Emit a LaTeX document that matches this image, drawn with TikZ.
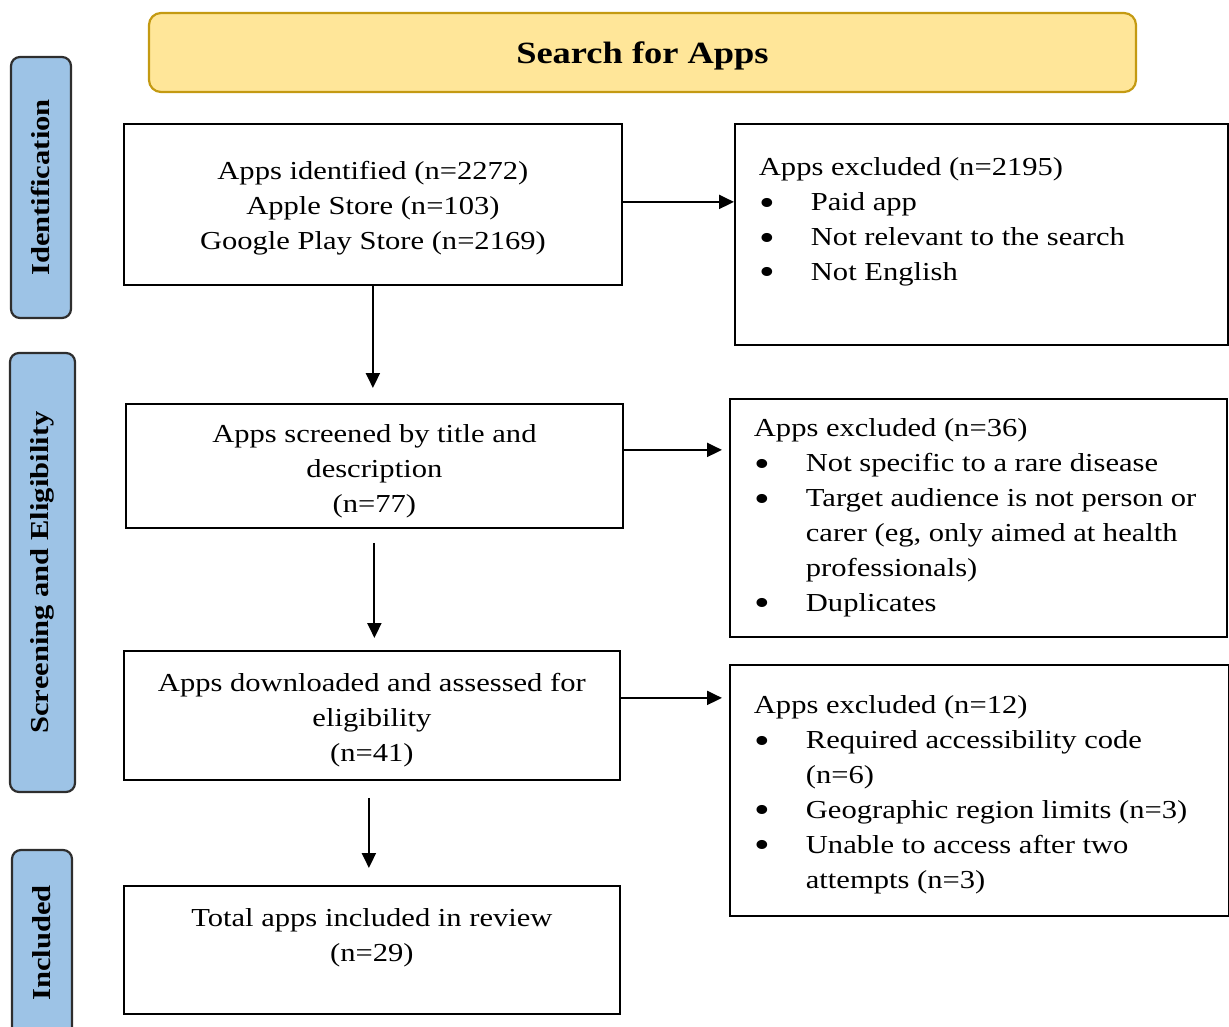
\documentclass[tikz,border=0pt]{standalone}
\usepackage{fontspec}
\setmainfont{Liberation Serif}[FakeStretch=1.18]
\usetikzlibrary{arrows.meta}

\definecolor{bannerfill}{HTML}{FFE699}
\definecolor{bannerdraw}{HTML}{C49A12}
\definecolor{stagefill}{HTML}{9DC3E6}
\definecolor{stagedraw}{HTML}{2E2E2E}

% box content: width, height, space above the first line, lines
\newcommand\boxlines[4]{\vbox to #2{\hrule height0pt depth0pt width #1\kern#3\relax #4\vfil}}
\newcommand\cenline[2]{\hbox to #1{\hfil\strut #2\hfil}}
\newcommand\lline[1]{\hbox{\hspace*{24bp}\strut #1}}
\newcommand\bul{\makebox[52bp][l]{\hspace{1bp}\raisebox{-4.5bp}{\fontsize{38}{35}\selectfont\textbullet}}}
\newcommand\cont{\hspace*{52bp}}

\begin{document}
\begin{tikzpicture}[x=1bp,y=-1bp,
  txt/.style={font=\fontsize{26}{35}\selectfont},
  box/.style={txt, draw=black, line width=1.8bp, inner sep=0pt, anchor=north west, fill=white},
  stage/.style={font=\fontsize{26}{30}\selectfont\bfseries, draw=stagedraw, fill=stagefill,
    line width=2.2bp, rounded corners=9bp, inner sep=0pt, rotate=90},
  banner/.style={font=\fontsize{31}{34}\selectfont\bfseries, draw=bannerdraw, fill=bannerfill,
    line width=2.2bp, rounded corners=12bp, inner sep=0pt},
  arr/.style={line width=2bp, -{Triangle[length=15bp,width=14bp]}}]

\useasboundingbox (0,0) rectangle (1229,1027);

% header
\node[banner, minimum width=987bp, minimum height=79bp] (search) at (642.5,52.5)
  {\raisebox{-11bp}[0pt][0pt]{Search for Apps}};

% stage labels
\node[stage, minimum width=261bp, minimum height=60bp] (sid) at (41,187.5) {Identification};
\node[stage, minimum width=439bp, minimum height=65bp] (sscr) at (42.5,572.5) {Screening and Eligibility};
\node[stage, minimum width=186bp, minimum height=60bp] (sinc) at (42,943) {Included};

% main flow
\node[box] (b1) at (123,123) {\boxlines{498bp}{161bp}{31.5bp}{%
  \cenline{498bp}{Apps identified (n=2272)}
  \cenline{498bp}{Apple Store (n=103)}
  \cenline{498bp}{Google Play Store (n=2169)}}};

\node[box] (b2) at (125,403) {\boxlines{497bp}{124bp}{14.5bp}{%
  \cenline{497bp}{Apps screened by title and}
  \cenline{497bp}{description}
  \cenline{497bp}{(n=77)}}};

\node[box] (b3) at (123,650) {\boxlines{496bp}{129bp}{16.5bp}{%
  \cenline{496bp}{Apps downloaded and assessed for}
  \cenline{496bp}{eligibility}
  \cenline{496bp}{(n=41)}}};

\node[box] (b4) at (123,885) {\boxlines{496bp}{128bp}{16.5bp}{%
  \cenline{496bp}{Total apps included in review}
  \cenline{496bp}{(n=29)}}};

% exclusions
\node[box] (ex1) at (734,123) {\boxlines{493bp}{221bp}{27.5bp}{%
  \lline{Apps excluded (n=2195)}
  \lline{\bul Paid app}
  \lline{\bul Not relevant to the search}
  \lline{\bul Not English}}};

\node[box] (ex2) at (729,398) {\boxlines{497bp}{238bp}{13.5bp}{%
  \lline{Apps excluded (n=36)}
  \lline{\bul Not specific to a rare disease}
  \lline{\bul Target audience is not person or}
  \lline{\cont carer (eg, only aimed at health}
  \lline{\cont professionals)}
  \lline{\bul Duplicates}}};

\node[box] (ex3) at (729,664) {\boxlines{499bp}{251bp}{24.5bp}{%
  \lline{Apps excluded (n=12)}
  \lline{\bul Required accessibility code}
  \lline{\cont (n=6)}
  \lline{\bul Geographic region limits (n=3)}
  \lline{\bul Unable to access after two}
  \lline{\cont attempts (n=3)}}};

% connectors
\coordinate (o1) at ([yshift=2.5bp]b1.east);
\coordinate (o2) at ([yshift=16bp]b2.east);
\coordinate (o3) at ([yshift=17.5bp]b3.east);
\coordinate (d3) at ([xshift=-3bp]b3.south);

\draw[arr] (o1) -- (o1 -| ex1.west);
\draw[arr, shorten >=7bp] (o2) -- (o2 -| ex2.west);
\draw[arr, shorten >=7bp] (o3) -- (o3 -| ex3.west);

\draw[arr, shorten >=15bp] (b1.south) -- (b1.south |- b2.north);
\draw[arr, shorten <=14bp, shorten >=12bp] (b2.south) -- (b2.south |- b3.north);
\draw[arr, shorten <=17bp, shorten >=17bp] (d3) -- (d3 |- b4.north);
\end{tikzpicture}
\end{document}
